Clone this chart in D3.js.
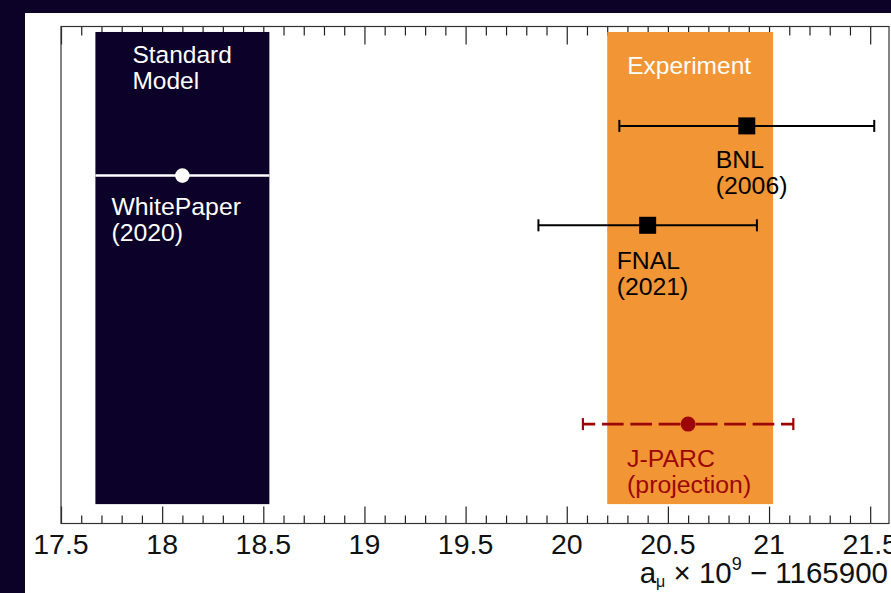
<!DOCTYPE html>
<html>
<head>
<meta charset="utf-8">
<script src="https://cdn.jsdelivr.net/npm/d3@7"></script>
<style>
	html, body { margin: 0; padding: 0; background: #0c0228; overflow: hidden; }
	svg { display: block; font-family: "Liberation Sans", Arial, sans-serif; }
</style>
</head>
<body>
<div id="chart"></div>
<script>
// bands (value +- error), rows on the y scale
var bandNames = ["Standard Model", "Experiment"];
var bandCenter = [18.10, 20.61];
var bandError = [0.43, 0.41];
var bandColor = ["#0c0128", "#f29535"];

var pointNames = ["WhitePaper", "BNL", "FNAL", "J-PARC"];
var pointYears = ["(2020)", "(2006)", "(2021)", "(projection)"];
var pointValue = [18.10, 20.89, 20.40, 20.60];
var pointError = [0.00, 0.63, 0.54, 0.52];
var pointRow = [7, 8, 6, 2];

var majorTicks = [17.5, 18, 18.5, 19, 19.5, 20, 20.5, 21, 21.5];
var minorTicks = d3.range(176, 216).map(function(d) { return d / 10; });

var svgWidth = 891;
var svgHeight = 593;
var frame = {left: 61, right: 889, top: 26.5, bottom: 523.5};

var svg = d3.select("#chart")
	.append("svg")
	.attr("width", svgWidth)
	.attr("height", svgHeight);

// white panel
svg.append("rect")
	.attr("x", 25).attr("y", 13)
	.attr("width", svgWidth).attr("height", svgHeight)
	.attr("fill", "#ffffff");

var x = d3.scaleLinear()
	.domain([17.5, 21.593])
	.range([frame.left, frame.right]);

var y = d3.scaleLinear()
	.domain([0, 10])
	.range([frame.bottom, frame.top]);

// ticks, bottom and top
function ticks(axisFn, values, size, ypos) {
	var g = svg.append("g")
		.attr("transform", "translate(0," + ypos + ")")
		.call(axisFn(x).tickValues(values).tickSize(size).tickFormat(""));
	g.select(".domain").remove();
	g.selectAll("line").attr("stroke", "#222").attr("stroke-width", 1.2);
	return g;
}
var minorOnly = minorTicks.filter(function(d) { return majorTicks.indexOf(d) < 0; });
ticks(d3.axisBottom, minorOnly, -8, frame.bottom);
ticks(d3.axisBottom, majorTicks, -17, frame.bottom);
ticks(d3.axisTop, minorOnly, -9, frame.top);
ticks(d3.axisTop, majorTicks, -18, frame.top);

// frame
svg.append("rect")
	.attr("x", frame.left).attr("y", frame.top)
	.attr("width", frame.right - frame.left)
	.attr("height", frame.bottom - frame.top)
	.attr("fill", "none")
	.attr("stroke", "#333")
	.attr("stroke-width", 1.2);

// tick labels
svg.append("g").selectAll("text")
	.data(majorTicks)
	.enter().append("text")
	.attr("x", function(d) { return x(d); })
	.attr("y", 554)
	.attr("text-anchor", "middle")
	.attr("font-size", 28.5)
	.attr("fill", "#111")
	.text(function(d) { return d; });

// axis title
var title = svg.append("text")
	.attr("x", 888)
	.attr("y", 583)
	.attr("text-anchor", "end")
	.attr("font-size", 29.5)
	.attr("fill", "#111");
title.append("tspan").text("a");
title.append("tspan").attr("font-size", 16).attr("dy", 4).text("μ");
title.append("tspan").attr("dy", -4).text(" × 10");
title.append("tspan").attr("font-size", 18).attr("dy", -13).text("9");
title.append("tspan").attr("dy", 13).text(" − 1165900");

// bands
svg.append("g").selectAll("rect")
	.data(bandCenter)
	.enter().append("rect")
	.attr("x", function(d, i) { return x(d - bandError[i]); })
	.attr("width", function(d, i) { return x(d + bandError[i]) - x(d - bandError[i]); })
	.attr("y", y(9.89))
	.attr("height", y(0.39) - y(9.89))
	.attr("fill", function(d, i) { return bandColor[i]; });

svg.append("text")
	.attr("font-size", 24.5)
	.attr("fill", "#ffffff")
	.selectAll("tspan")
	.data(bandNames[0].split(" "))
	.enter().append("tspan")
	.attr("x", x(bandCenter[0] - bandError[0]) + 37)
	.attr("y", function(d, i) { return 63 + i * 26; })
	.text(function(d) { return d; });

svg.append("text")
	.attr("x", x(bandCenter[1]) - 1)
	.attr("y", 74)
	.attr("text-anchor", "middle")
	.attr("font-size", 24.5)
	.attr("fill", "#ffffff")
	.text(bandNames[1]);

// WhitePaper line across the SM band
svg.append("line")
	.attr("x1", x(bandCenter[0] - bandError[0]))
	.attr("x2", x(bandCenter[0] + bandError[0]))
	.attr("y1", y(pointRow[0]))
	.attr("y2", y(pointRow[0]))
	.attr("stroke", "#ffffff")
	.attr("stroke-width", 2.5);

svg.append("circle")
	.attr("cx", x(pointValue[0]))
	.attr("cy", y(pointRow[0]))
	.attr("r", 7.3)
	.attr("fill", "#ffffff");

// measurements BNL, FNAL (solid black, squares)
[1, 2].forEach(function(i) {
	var cy = y(pointRow[i]);
	var g = svg.append("g").attr("stroke", "#000").attr("stroke-width", 2);
	g.append("line")
		.attr("x1", x(pointValue[i] - pointError[i]))
		.attr("x2", x(pointValue[i] + pointError[i]))
		.attr("y1", cy).attr("y2", cy);
	[pointValue[i] - pointError[i], pointValue[i] + pointError[i]].forEach(function(v) {
		g.append("line")
			.attr("x1", x(v)).attr("x2", x(v))
			.attr("y1", cy - 6).attr("y2", cy + 6);
	});
	svg.append("rect")
		.attr("x", x(pointValue[i]) - 8.5)
		.attr("y", cy - 8.5)
		.attr("width", 17).attr("height", 17)
		.attr("fill", "#000");
});

// J-PARC projection (dashed red), dashes run from each end to the centre
var jp = 3;
var jpColor = "#9c0606";
var jy = y(pointRow[jp]);
var jg = svg.append("g").attr("stroke", jpColor).attr("stroke-width", 2.7);
[pointValue[jp] - pointError[jp], pointValue[jp] + pointError[jp]].forEach(function(v) {
	jg.append("line")
		.attr("x1", x(v))
		.attr("x2", x(pointValue[jp]))
		.attr("y1", jy).attr("y2", jy)
		.attr("stroke-dasharray", "21.7,6.7")
		.attr("stroke-dashoffset", 9.4);
	jg.append("line")
		.attr("x1", x(v)).attr("x2", x(v))
		.attr("y1", jy - 6).attr("y2", jy + 6)
		.attr("stroke-width", 2.2);
});
svg.append("circle")
	.attr("cx", x(pointValue[jp]))
	.attr("cy", jy)
	.attr("r", 7.5)
	.attr("fill", jpColor);

// point labels (name + year), offsets from the marker
var labelDx = [-71, -31, -31, -61];
var labelDy = [39.5, 42, 44, 43];
var labelColor = ["#ffffff", "#000", "#000", jpColor];
pointNames.forEach(function(name, i) {
	var t = svg.append("text")
		.attr("font-size", 24.8)
		.attr("fill", labelColor[i]);
	[name, pointYears[i]].forEach(function(s, k) {
		t.append("tspan")
			.attr("x", x(pointValue[i]) + labelDx[i])
			.attr("y", y(pointRow[i]) + labelDy[i] + k * 26)
			.text(s);
	});
});
</script>
</body>
</html>
